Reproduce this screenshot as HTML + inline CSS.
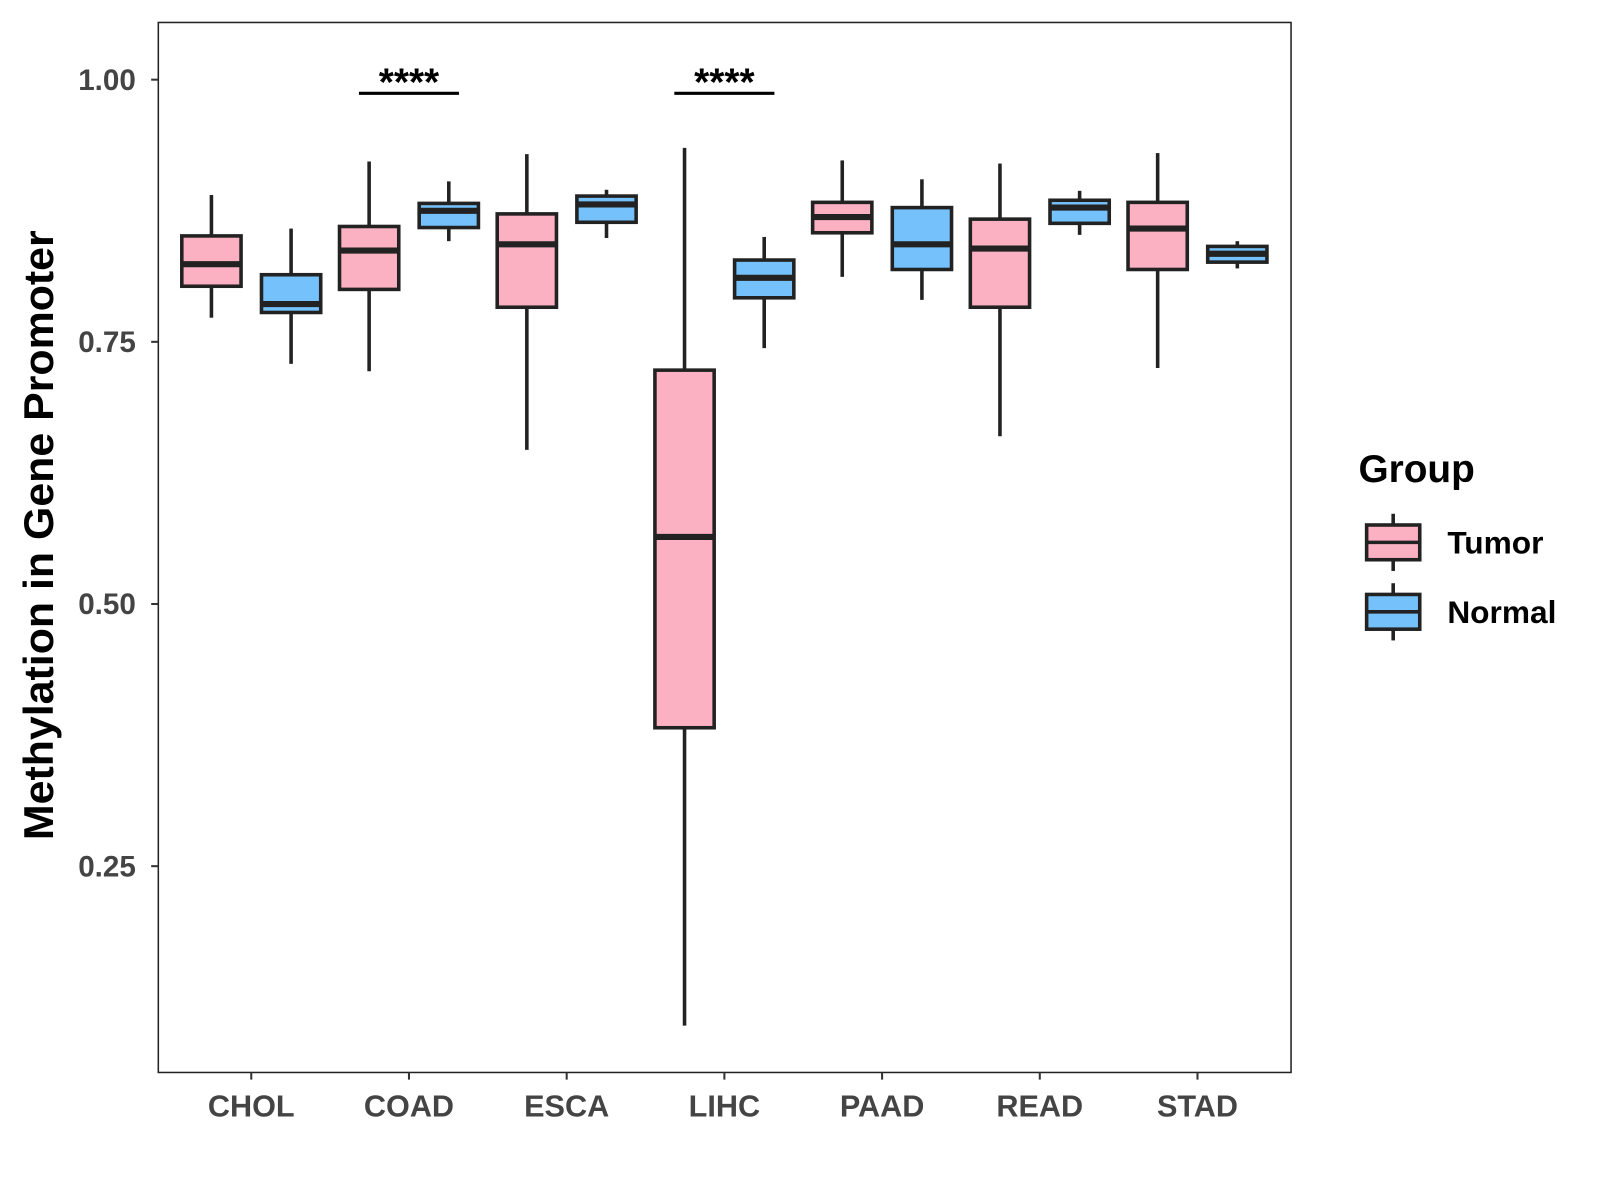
<!DOCTYPE html>
<html><head><meta charset="utf-8"><style>
html,body{margin:0;padding:0;background:#fff;}
svg{display:block;font-family:"Liberation Sans",Arial,sans-serif;}
</style></head><body>
<svg width="1600" height="1200" viewBox="0 0 1600 1200"><g id="chart" transform="scale(1.0214)"></g></svg>
<script>
const categories = ["CHOL","COAD","ESCA","LIHC","PAAD","READ","STAD"];
// [whiskerLow, q1, median, q3, whiskerHigh]
const tumorStats = [
  [0.773,0.803,0.824,0.851,0.890],
  [0.722,0.800,0.837,0.860,0.922],
  [0.647,0.783,0.843,0.872,0.929],
  [0.098,0.382,0.564,0.723,0.935],
  [0.812,0.854,0.869,0.883,0.923],
  [0.660,0.783,0.839,0.867,0.920],
  [0.725,0.819,0.858,0.883,0.930]
];
const normalStats = [
  [0.729,0.778,0.786,0.814,0.858],
  [0.846,0.859,0.875,0.882,0.903],
  [0.849,0.864,0.881,0.889,0.895],
  [0.744,0.792,0.811,0.828,0.850],
  [0.790,0.819,0.843,0.878,0.905],
  [0.852,0.863,0.878,0.885,0.894],
  [0.820,0.826,0.834,0.841,0.846]
];
const yTicks = [0.25,0.50,0.75,1.00];
const yTickLabels = ["0.25","0.50","0.75","1.00"];
const sigCategories = ["COAD","LIHC"];
const sigLabels = ["****","****"];
const sigY = 0.987;

const NS="http://www.w3.org/2000/svg";
const svg=document.getElementById('chart');
const L=155,R=1264,T=22,B=1050;
function y(v){return 78+(1-v)*1026.7;}
function x(i){return 246+i*154.4;}
function el(tag,attrs,parent){const e=document.createElementNS(NS,tag);for(const k in attrs)e.setAttribute(k,attrs[k]);(parent||svg).appendChild(e);return e;}
function txt(s,attrs){const e=el('text',attrs);e.textContent=s;return e;}

const panel=el('rect',{x:L,y:T,width:R-L,height:B-T,fill:'#fff',stroke:'#222','stroke-width':1.5});



yTicks.forEach((t,i)=>{
  const tk=el('line',{x1:L-7,x2:L,y1:y(t),y2:y(t),stroke:'#333','stroke-width':2});
  
  
  const lb=txt(yTickLabels[i],{x:L-22,y:y(t)+10,'text-anchor':'end','font-size':29,'font-weight':'bold',fill:'#444'});
  
  
});
categories.forEach((c,i)=>{
  const tk=el('line',{x1:x(i),x2:x(i),y1:B,y2:B+7,stroke:'#333','stroke-width':2});
  
  
  const lb=txt(c,{x:x(i),y:B+43,'text-anchor':'middle','font-size':30,'font-weight':'bold',fill:'#444'});
  
  
});
const yt=txt("Methylation in Gene Promoter",{x:0,y:0,transform:'translate(52,524) rotate(-90)','text-anchor':'middle','font-size':41,'font-weight':'bold',fill:'#000',textLength:597,lengthAdjust:'spacingAndGlyphs'});



function box(cx,s,fill,name){
  const g=el('g',{});
  
  
  const hw=29;
  el('line',{x1:cx,x2:cx,y1:y(s[4]),y2:y(s[3]),stroke:'#222','stroke-width':3.5},g);
  el('line',{x1:cx,x2:cx,y1:y(s[1]),y2:y(s[0]),stroke:'#222','stroke-width':3.5},g);
  el('rect',{x:cx-hw,y:y(s[3]),width:2*hw,height:y(s[1])-y(s[3]),fill:fill,stroke:'#222','stroke-width':3.5},g);
  el('line',{x1:cx-hw,x2:cx+hw,y1:y(s[2]),y2:y(s[2]),stroke:'#222','stroke-width':6},g);
}
categories.forEach((c,i)=>{
  box(x(i)-39,tumorStats[i],'#fcb1c3','box-tumor-'+c.toLowerCase());
  box(x(i)+39,normalStats[i],'#75c1fb','box-normal-'+c.toLowerCase());
});
sigCategories.forEach((c,k)=>{
  const i=categories.indexOf(c);
  const ln=el('line',{x1:x(i)-49,x2:x(i)+49,y1:y(sigY),y2:y(sigY),stroke:'#000','stroke-width':3});
  
  
  const s=txt(sigLabels[k],{x:x(i),y:y(sigY)+2,'text-anchor':'middle','font-size':38,'font-weight':'bold',fill:'#000'});
  
  
});

const lt=txt("Group",{x:1330,y:472,'font-size':38,'font-weight':'bold',fill:'#000'});


[["Tumor",'#fcb1c3',531],["Normal",'#75c1fb',599]].forEach(([n,f,cy])=>{
  const g=el('g',{});
  
  
  el('line',{x1:1364,x2:1364,y1:cy-28,y2:cy+28,stroke:'#222','stroke-width':3.5},g);
  el('rect',{x:1338,y:cy-17,width:52,height:34,fill:f,stroke:'#222','stroke-width':3.5},g);
  el('line',{x1:1338,x2:1390,y1:cy,y2:cy,stroke:'#222','stroke-width':3.5},g);
  const t=el('text',{x:1417,y:cy+11,'font-size':31,'font-weight':'bold',fill:'#000'},g);
  t.textContent=n;
});
</script>
</body></html>
